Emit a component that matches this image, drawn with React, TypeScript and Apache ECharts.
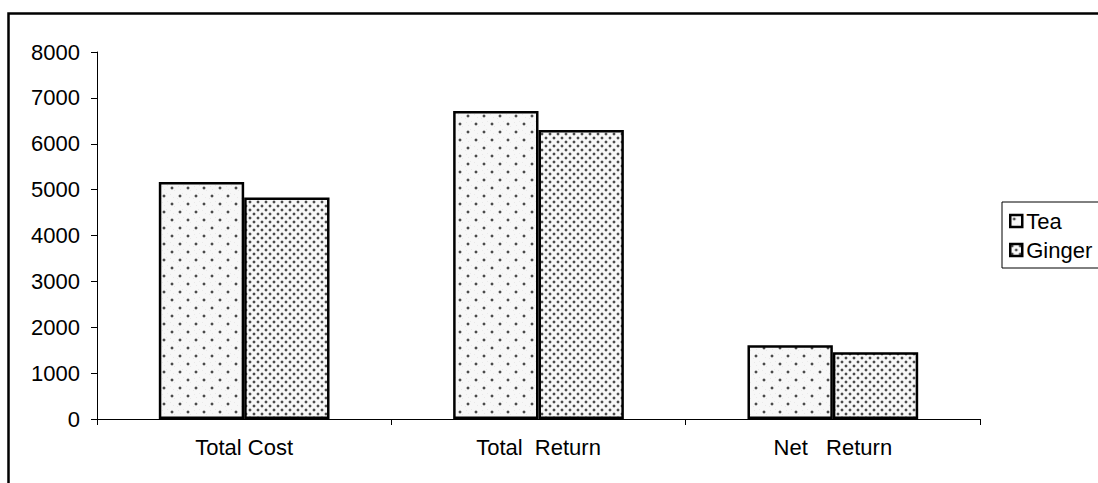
import React, { useEffect, useRef } from "react";
import * as echarts from "echarts";

const categories = ["Total Cost", "Total  Return", "Net   Return"];
const teaValues = [5165, 6715, 1610];
const gingerValues = [4830, 6300, 1455];
const yTicks = { min: 0, max: 8000, interval: 1000 };

function makeTeaPattern(): HTMLCanvasElement {
  const c = document.createElement("canvas");
  c.width = 16;
  c.height = 16;
  const g = c.getContext("2d")!;
  g.fillStyle = "#f7f7f7";
  g.fillRect(0, 0, 16, 16);
  g.fillStyle = "#e9e9e9";
  const speck = [[1, 6], [6, 1], [13, 5], [7, 9], [14, 14], [4, 13], [10, 2], [2, 10]];
  speck.forEach(([x, y]) => g.fillRect(x, y, 1, 1));
  const dot = (x: number, y: number) => {
    g.fillStyle = "#c4c4c4";
    g.fillRect(x - 1, y, 4, 2);
    g.fillRect(x, y - 1, 2, 4);
    g.fillStyle = "#4a4a4a";
    g.fillRect(x, y, 2, 2);
  };
  dot(3, 3);
  dot(11, 11);
  return c;
}

function makeGingerPattern(): HTMLCanvasElement {
  const c = document.createElement("canvas");
  c.width = 8;
  c.height = 8;
  const g = c.getContext("2d")!;
  g.fillStyle = "#f7f7f7";
  g.fillRect(0, 0, 8, 8);
  const dot = (x: number, y: number) => {
    g.fillStyle = "#c8c8c8";
    g.fillRect(x - 1, y, 4, 2);
    g.fillRect(x, y - 1, 2, 4);
    g.fillStyle = "#4a4a4a";
    g.fillRect(x, y, 2, 2);
  };
  dot(1, 1);
  dot(5, 5);
  return c;
}

export default function App() {
  const ref = useRef<HTMLDivElement>(null);
  useEffect(() => {
    if (!ref.current) return;
    const chart = echarts.init(ref.current, undefined, { renderer: "svg" });
    const teaFill: any = { image: makeTeaPattern(), repeat: "repeat" };
    const gingerFill: any = { image: makeGingerPattern(), repeat: "repeat" };
    const font = "'Liberation Sans', Arial, sans-serif";
    chart.setOption({
      animation: false,
      backgroundColor: "#ffffff",
      textStyle: { fontFamily: font, color: "#000" },
      graphic: [
        {
          type: "rect",
          shape: { x: 8.5, y: 13.5, width: 1200, height: 600 },
          style: { fill: "none", stroke: "#000", lineWidth: 2.5 },
          silent: true,
          z: 0,
        },
      ],
      grid: { left: 97, right: 118, top: 52, bottom: 64, containLabel: false },
      legend: {
        orient: "vertical",
        left: 1002,
        top: 202,
        padding: [8, 20, 7, 7],
        itemGap: 7,
        itemWidth: 12,
        itemHeight: 12,
        borderColor: "#000",
        borderWidth: 1,
        borderRadius: 0,
        icon: "rect",
        textStyle: { fontFamily: font, fontSize: 22, color: "#000", padding: [0, 0, 0, -1] },
        itemStyle: { borderColor: "#000", borderWidth: 2.5 },
        data: ["Tea", "Ginger"],
      },
      xAxis: {
        type: "category",
        data: categories,
        boundaryGap: true,
        axisLine: { lineStyle: { color: "#000", width: 1 } },
        axisTick: { show: true, alignWithLabel: false, length: 6, lineStyle: { color: "#000" } },
        axisLabel: { color: "#000", fontSize: 22, fontFamily: font, margin: 17 },
        splitLine: { show: false },
      },
      yAxis: {
        type: "value",
        min: yTicks.min,
        max: yTicks.max,
        interval: yTicks.interval,
        axisLine: { show: true, lineStyle: { color: "#000", width: 1 } },
        axisTick: { show: true, length: 6, lineStyle: { color: "#000" } },
        axisLabel: {
          color: "#000",
          fontSize: 22,
          fontFamily: font,
          margin: 17,
          formatter: (v: number) => String(v),
        },
        splitLine: { show: false },
      },
      series: [
        {
          name: "Tea",
          type: "bar",
          data: teaValues,
          barGap: "0%",
          barCategoryGap: "42%",
          itemStyle: { color: teaFill, borderColor: "#000", borderWidth: 2.5 },
        },
        {
          name: "Ginger",
          type: "bar",
          data: gingerValues,
          barGap: "0%",
          barCategoryGap: "42%",
          itemStyle: { color: gingerFill, borderColor: "#000", borderWidth: 2.5 },
        },
      ],
    });
    return () => chart.dispose();
  }, []);
  return (
    <div
      ref={ref}
      style={{ position: "absolute", left: 0, top: 0, width: 1098, height: 483 }}
    />
  );
}
